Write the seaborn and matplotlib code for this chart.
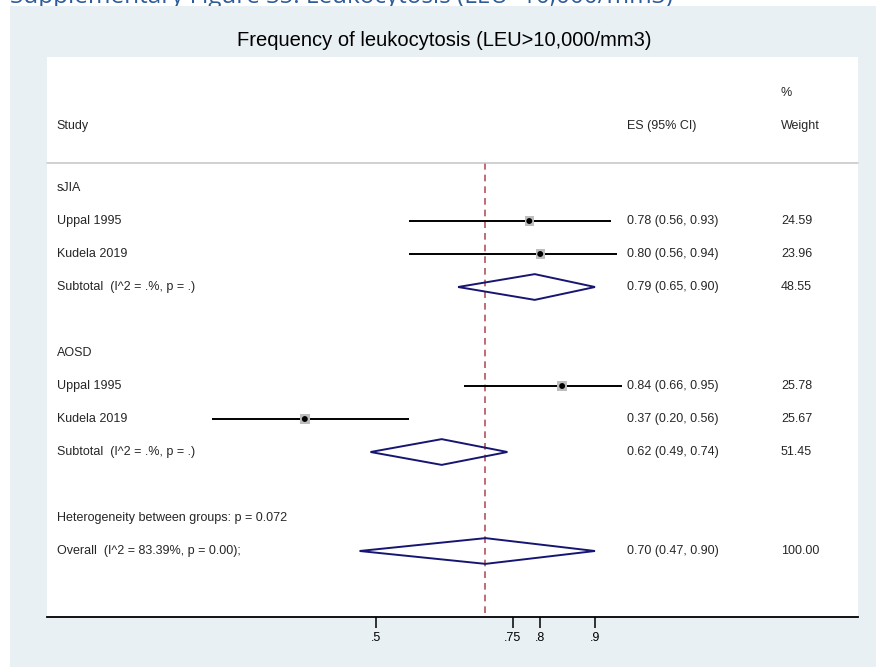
import matplotlib
matplotlib.use("Agg")
import matplotlib.pyplot as plt
from matplotlib.patches import Rectangle, Polygon
import seaborn as sns
import pandas as pd

# ---- data -------------------------------------------------------------
groups = ["sJIA", "AOSD"]
study_names = ["Uppal 1995", "Kudela 2019", "Uppal 1995", "Kudela 2019"]
study_group = ["sJIA", "sJIA", "AOSD", "AOSD"]
es = [0.78, 0.80, 0.84, 0.37]
ci_lo = [0.56, 0.56, 0.66, 0.20]
ci_hi = [0.93, 0.94, 0.95, 0.56]
weights = [24.59, 23.96, 25.78, 25.67]

sub_es = [0.79, 0.62]
sub_lo = [0.65, 0.49]
sub_hi = [0.90, 0.74]
sub_w = [48.55, 51.45]

overall_es, overall_lo, overall_hi, overall_w = 0.70, 0.47, 0.90, 100.00
overall_i2, overall_p = "83.39%", "0.00"
het_p = 0.072

tick_values = [0.5, 0.75, 0.8, 0.9]
tick_labels = [".5", ".75", ".8", ".9"]

# row layout of the forest plot (one row per line of text)
study_rows = [1, 2, 6, 7]
group_rows = [0, 5]
sub_rows = [3, 8]
het_row, overall_row = 10, 11

# ---- figure ---------------------------------------------------------------
sns.set_style("white")
plt.rcParams["font.family"] = ["Liberation Sans", "DejaVu Sans"]

W, H = 876, 667
fig = plt.figure(figsize=(W / 100, H / 100), dpi=100)
fig.patch.set_facecolor("white")

bg = "#e9f0f3"
fig.text(10 / W, 1 - 3 / H,
         "Supplementary Figure S5: Leukocytosis (LEU>10,000/mm3)",
         fontsize=17.5, color="#2e5c9a", family=["Open Sans", "DejaVu Sans"],
         ha="left", va="baseline", zorder=-2)
fig.patches.append(Rectangle((10 / W, 0), 1, 1 - 6 / H, transform=fig.transFigure,
                             facecolor=bg, edgecolor="none", zorder=-1))

fig.text(444 / W, 1 - 41 / H, "Frequency of leukocytosis (LEU>10,000/mm3)",
         fontsize=14.5, ha="center", va="center", color="black")

ax = fig.add_axes([47 / W, 1 - 617 / H, 811 / W, 560 / H])
ax.set_facecolor("white")
x_left, x_right = -0.1009, 1.3804
ax.set_xlim(x_left, x_right)
ax.set_ylim(13.0, -3.97)
for s in ["top", "left", "right"]:
    ax.spines[s].set_visible(False)
ax.spines["bottom"].set_color("black")
ax.spines["bottom"].set_linewidth(1.3)
ax.set_yticks([])
ax.set_xticks(tick_values)
ax.set_xticklabels(tick_labels)
ax.tick_params(axis="x", direction="out", length=8, width=1.1, labelsize=9,
               pad=2.5, colors="black", bottom=True)

# header
x_study, x_es, x_w = -0.083, 0.9584, 1.2397
ax.text(x_study, -1.88, "Study", fontsize=9, va="center", ha="left")
ax.text(x_es, -1.88, "ES (95% CI)", fontsize=9, va="center", ha="left")
ax.text(x_w, -1.88, "Weight", fontsize=9, va="center", ha="left")
ax.text(x_w, -2.88, "%", fontsize=9, va="center", ha="left")
ax.plot([x_left, x_right], [-0.76, -0.76], color="#c4c4c4", lw=1.1, clip_on=False)

# reference line at the overall estimate
ax.plot([overall_es, overall_es], [-0.76, 13.0], color="#b5535b", lw=1.2,
        dashes=(4, 3), zorder=1)

# study confidence intervals and point estimates
df = pd.DataFrame({"es": es, "lo": ci_lo, "hi": ci_hi, "w": weights,
                   "row": study_rows})
ax.hlines(df["row"], df["lo"], df["hi"], color="black", lw=1.4, zorder=2)
sns.scatterplot(data=df, x="es", y="row", marker="s", color="#bdbdbd",
                s=[w * 1.9 for w in weights], edgecolor="none", ax=ax,
                zorder=3, legend=False)
sns.scatterplot(data=df, x="es", y="row", marker="o", color="black", s=18,
                edgecolor="none", ax=ax, zorder=4, legend=False)
ax.set_xlabel("")
ax.set_ylabel("")


def diamond(center, lo, hi, row, half=0.39):
    ax.add_patch(Polygon([(lo, row), (center, row - half), (hi, row),
                          (center, row + half)], closed=True, fill=False,
                         edgecolor="#161672", lw=1.4, zorder=3))


fmt = "{:.2f} ({:.2f}, {:.2f})"
for g, r in zip(groups, group_rows):
    ax.text(x_study, r, g, fontsize=9, va="center", ha="left")
for name, r, e, lo, hi, w in zip(study_names, study_rows, es, ci_lo, ci_hi, weights):
    ax.text(x_study, r, name, fontsize=9, va="center", ha="left")
    ax.text(x_es, r, fmt.format(e, lo, hi), fontsize=9, va="center", ha="left")
    ax.text(x_w, r, f"{w:.2f}", fontsize=9, va="center", ha="left")
for r, e, lo, hi, w in zip(sub_rows, sub_es, sub_lo, sub_hi, sub_w):
    diamond(e, lo, hi, r)
    ax.text(x_study, r, "Subtotal  (I^2 = .%, p = .)", fontsize=9, va="center", ha="left")
    ax.text(x_es, r, fmt.format(e, lo, hi), fontsize=9, va="center", ha="left")
    ax.text(x_w, r, f"{w:.2f}", fontsize=9, va="center", ha="left")

ax.text(x_study, het_row, f"Heterogeneity between groups: p = {het_p:.3f}",
        fontsize=9, va="center", ha="left")
diamond(overall_es, overall_lo, overall_hi, overall_row)
ax.text(x_study, overall_row, f"Overall  (I^2 = {overall_i2}, p = {overall_p});",
        fontsize=9, va="center", ha="left")
ax.text(x_es, overall_row, fmt.format(overall_es, overall_lo, overall_hi),
        fontsize=9, va="center", ha="left")
ax.text(x_w, overall_row, f"{overall_w:.2f}", fontsize=9, va="center", ha="left")

fig.savefig("out.png", dpi=100, facecolor=fig.get_facecolor())
